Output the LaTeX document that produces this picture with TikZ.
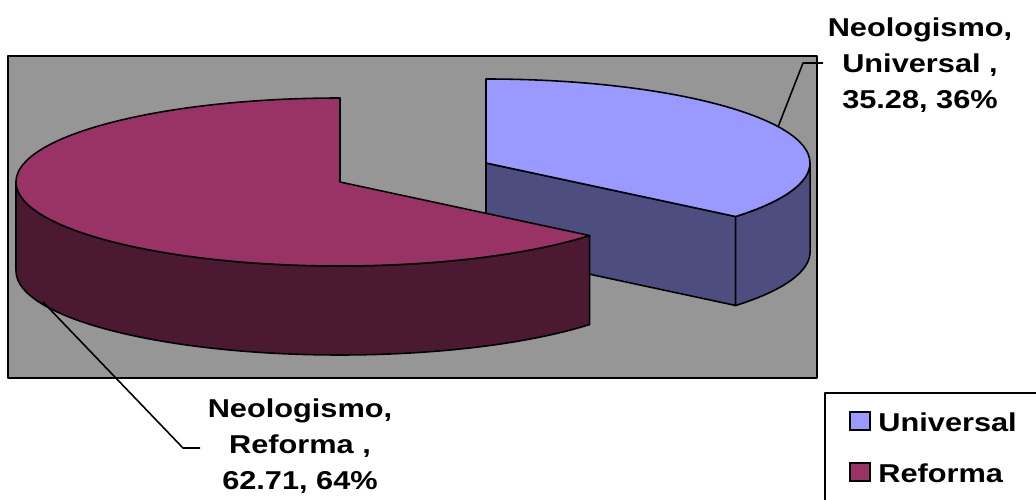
\documentclass[tikz,border=0pt]{standalone}
\usepackage{fontspec}
\setmainfont{Liberation Sans}
\usetikzlibrary{calc}

\definecolor{plotgray}{RGB}{150,150,150}
\definecolor{unitop}{RGB}{153,153,255}
\definecolor{uniside}{RGB}{77,77,128}
\definecolor{reftop}{RGB}{153,51,102}
\definecolor{refside}{RGB}{76,25,51}

\begin{document}
\begin{tikzpicture}[x=0.02cm, y=-0.02cm,
    edge/.style={draw=black, line width=0.9pt, line join=round},
    lbl/.style={font=\fontsize{14.7}{20.5}\selectfont\bfseries, align=center,
        inner sep=0pt, xscale=1.19, transform shape},
    key/.style={draw=black, line width=0.9pt, minimum width=20*0.02cm,
        minimum height=18*0.02cm, inner sep=0pt}]

    \useasboundingbox (0,0) rectangle (1036,500);

    % plot area
    \draw[edge, fill=plotgray] (8,56) rectangle (817,378);

    % slice centres
    \coordinate (uniC) at (486,163);
    \coordinate (refC) at (340,182);

    % Universal, pulled out
    \draw[edge, fill=uniside] (uniC) -- ++(249.7,53.5) -- ++(0,89) -- ++(-249.7,-53.5) -- cycle;
    \draw[edge, fill=uniside] ($(uniC)+(249.7,53.5)$)
        arc[start angle=39.6, end angle=0, x radius=324, y radius=84]
        -- ++(0,89)
        arc[start angle=0, end angle=39.6, x radius=324, y radius=84] -- cycle;
    \draw[edge, fill=unitop] (uniC) -- ++(0,-84)
        arc[start angle=270, end angle=399.6, x radius=324, y radius=84] -- cycle;

    % Reforma
    \draw[edge, fill=refside] ($(refC)+(-324,0)$)
        arc[start angle=180, end angle=39.6, x radius=324, y radius=84]
        -- ++(0,89)
        arc[start angle=39.6, end angle=180, x radius=324, y radius=84] -- cycle;
    \draw[edge, fill=reftop] (refC) -- ++(0,-84)
        arc[start angle=270, end angle=39.6, x radius=324, y radius=84] -- cycle;

    % data labels
    \node[lbl] (uniLbl) at (920,65) {Neologismo,\\Universal ,\\35.28, 36\%};
    \node[lbl] (refLbl) at (300,446) {Neologismo,\\Reforma ,\\62.71, 64\%};

    \coordinate (uniTip) at (778,127);
    \coordinate (uniBend) at (803,63);
    \coordinate (uniEnd) at (823,63);
    \draw[edge] (uniTip) -- (uniBend) -- (uniEnd);

    \coordinate (refTip) at (43,302);
    \coordinate (refBend) at (183,448);
    \coordinate (refEnd) at (200,448);
    \draw[edge] (refTip) -- (refBend) -- (refEnd);

    % legend
    \draw[edge] (825,393) rectangle (1045,510);
    \node[key, fill=unitop] (uniKey) at (860,421) {};
    \node[key, fill=reftop] (refKey) at (860,472) {};
    \node[lbl, anchor=west] (uniTxt) at (878,422) {Universal};
    \node[lbl, anchor=west] (refTxt) at (878,473) {Reforma};
\end{tikzpicture}
\end{document}
